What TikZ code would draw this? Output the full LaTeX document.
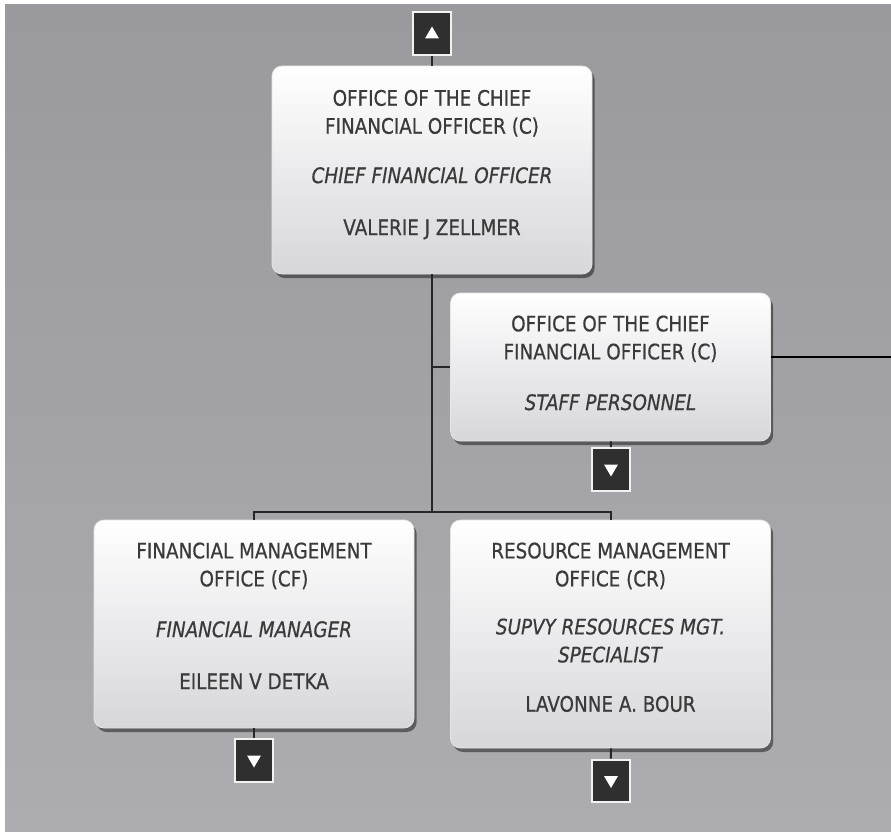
\documentclass[tikz,border=0pt]{standalone}
\usepackage{fontspec}
\setmainfont{DejaVu Sans}[FakeStretch=0.86, FakeBold=0.6]
\usetikzlibrary{calc,shadows}

\definecolor{pagetop}{HTML}{9A9A9E}
\definecolor{pagebot}{HTML}{ADADB1}
\definecolor{ink}{HTML}{3A3A3A}
\definecolor{btnfill}{HTML}{2F2F2F}
\definecolor{boxbot}{HTML}{D7D7DB}

\def\uptri(#1){\fill[white] (#1.center) ++(-7,5) -- ++(14,0) -- ++(-7,-12) -- cycle;}
\def\downtri(#1){\fill[white] (#1.center) ++(-7,-5) -- ++(14,0) -- ++(-7,12) -- cycle;}

\tikzset{
  unit/.style={rectangle, rounded corners=7.5pt, draw=white!80!gray, line width=0.6pt,
    top color=white, bottom color=boxbot,
    drop shadow={shadow xshift=2pt, shadow yshift=-3pt, opacity=0.45, fill=black},
    minimum width=240pt, inner sep=0pt},
  unittext/.style={anchor=north, inner sep=0pt, align=center, text=ink,
    font=\fontsize{16}{21}\selectfont},
  button/.style={rectangle, fill=btnfill, draw=white!90!gray, line width=1.5pt,
    minimum width=28.5pt, minimum height=32pt, inner sep=0pt},
  link/.style={draw=black!85, line width=1.5pt},
}

\begin{document}
\begin{tikzpicture}[x=0.75pt, y=-0.75pt]
  %%%%% PAGE %%%%%
  \fill[white] (0,0) rectangle (891,831);
  \shade[top color=pagetop, bottom color=pagebot] (5,5) rectangle (891,831);
  \useasboundingbox (0,0) rectangle (891,831);

  \coordinate (bus) at (432,512);
  \coordinate (offpage) at (891,357);

  %%%%% BOXES %%%%%
  \node[unit, minimum height=156pt] (cfo) at (432,170) {};
  \node[unit, minimum height=111pt] (staff) at (610.5,367) {};
  \node[unit, minimum height=156pt] (fmo) at (254,624) {};
  \node[unit, minimum height=171pt] (rmo) at (610.5,634) {};

  %%%%% BUTTONS %%%%%
  \node[button] (upbtn) at (432,33.5) {};
  \node[button] (stfbtn) at (611,469.5) {};
  \node[button] (fmobtn) at (254,760.5) {};
  \node[button] (rmobtn) at (611,781) {};
  \uptri(upbtn)
  \downtri(stfbtn)
  \downtri(fmobtn)
  \downtri(rmobtn)

  %%%%% LINKS %%%%%
  \draw[link] (upbtn) -- (cfo);
  \draw[link] (cfo) -- (bus);
  \draw[link] (cfo.south |- staff.west) -- (staff.west);
  \draw[link] (fmo) |- (bus) -| (rmo);
  \draw[link] (staff) -- (stfbtn);
  \draw[link] (fmo) -- (fmobtn);
  \draw[link] (rmo) -- (rmobtn);
  \draw[link, draw=black, line width=2.2pt] (staff.east |- offpage) -- (offpage);

  %%%%% TEXT %%%%%
  \node[unittext] (cfotxt) at ([yshift=-18pt]cfo.north)
    {OFFICE OF THE CHIEF\\FINANCIAL OFFICER (C)\\[16pt]
     \textit{CHIEF FINANCIAL OFFICER}\\[18pt]VALERIE J ZELLMER};
  \node[unittext] (stafftxt) at ([yshift=-17pt]staff.north)
    {OFFICE OF THE CHIEF\\FINANCIAL OFFICER (C)\\[17pt]
     \textit{STAFF PERSONNEL}};
  \node[unittext] (fmotxt) at ([yshift=-17pt]fmo.north)
    {FINANCIAL MANAGEMENT\\OFFICE (CF)\\[17pt]
     \textit{FINANCIAL MANAGER}\\[18pt]EILEEN V DETKA};
  \node[unittext] (rmotxt) at ([yshift=-17pt]rmo.north)
    {RESOURCE MANAGEMENT\\OFFICE (CR)\\[15pt]
     \textit{SUPVY RESOURCES MGT.}\\\textit{SPECIALIST}\\[16pt]LAVONNE A. BOUR};
\end{tikzpicture}
\end{document}
